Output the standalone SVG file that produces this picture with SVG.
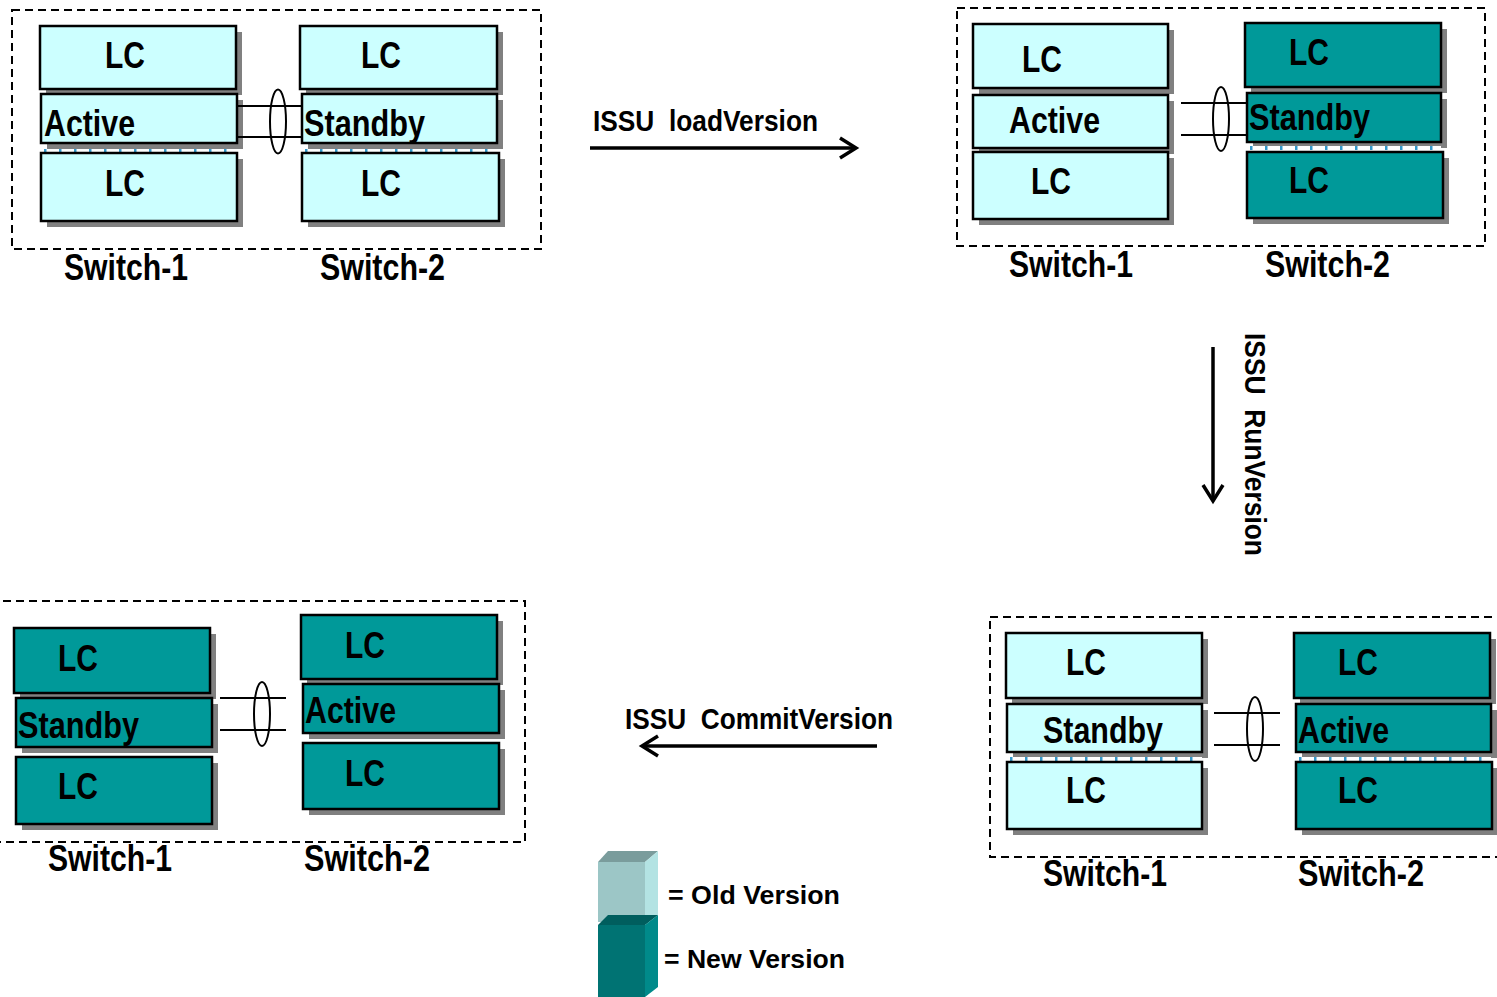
<svg xmlns="http://www.w3.org/2000/svg" width="1497" height="997" viewBox="0 0 1497 997">
  <style>
    .frame { fill: none; stroke: #000; stroke-width: 2; stroke-dasharray: 8 5; }
    .shadow { fill: #808080; }
    .old { fill: #CCFFFF; stroke: #000; stroke-width: 2.5; }
    .new { fill: #009999; stroke: #000; stroke-width: 2.5; }
    .sep { stroke: #fff; stroke-width: 4; }
    .sepdot { stroke: #3399CC; stroke-width: 4; stroke-dasharray: 2.5 12.5; }
    .lbl { font-family: "Liberation Sans Narrow", "Liberation Sans", Arial, sans-serif; font-weight: bold; font-size: 37px; fill: #000; }
    .sw { font-family: "Liberation Sans Narrow", "Liberation Sans", Arial, sans-serif; font-weight: bold; font-size: 36px; fill: #000; }
    .op { font-family: "Liberation Sans Narrow", "Liberation Sans", Arial, sans-serif; font-weight: bold; font-size: 30px; fill: #000; }
    .leg { font-family: "Liberation Sans", Arial, sans-serif; font-weight: bold; font-size: 26px; fill: #000; }
    .link { stroke: #000; stroke-width: 2; fill: none; }
    .ring { stroke: #000; stroke-width: 2; fill: none; }
    .flow { stroke: #000; stroke-width: 3.5; fill: none; }
  </style>

  <!-- Stage 1: both switches on the old image -->
  <g id="stage1">
    <rect class="frame" x="12" y="10" width="529" height="239"/>
    <g id="s1-sw1">
      <rect class="shadow" x="46" y="32" width="196" height="63"/>
      <rect class="old" x="40" y="26" width="196" height="63"/>
      <rect class="shadow" x="47" y="100" width="196" height="49"/>
      <rect class="old" x="41" y="94" width="196" height="49"/>
      <line class="sep" x1="44" y1="151" x2="237" y2="151"/>
      <line class="sepdot" x1="44" y1="151" x2="237" y2="151"/>
      <rect class="shadow" x="47" y="159" width="196" height="68"/>
      <rect class="old" x="41" y="153" width="196" height="68"/>
      <text class="lbl" x="105" y="68" textLength="40" lengthAdjust="spacingAndGlyphs">LC</text>
      <text class="lbl" x="44" y="136" textLength="91" lengthAdjust="spacingAndGlyphs">Active</text>
      <text class="lbl" x="105" y="196" textLength="40" lengthAdjust="spacingAndGlyphs">LC</text>
      <text class="sw" x="64" y="280" textLength="124" lengthAdjust="spacingAndGlyphs">Switch-1</text>
    </g>
    <g id="s1-sw2">
      <rect class="shadow" x="306" y="32" width="197" height="63"/>
      <rect class="old" x="300" y="26" width="197" height="63"/>
      <rect class="shadow" x="308" y="100" width="195" height="49"/>
      <rect class="old" x="302" y="94" width="195" height="49"/>
      <line class="sep" x1="305" y1="151" x2="497" y2="151"/>
      <line class="sepdot" x1="305" y1="151" x2="497" y2="151"/>
      <rect class="shadow" x="308" y="159" width="197" height="68"/>
      <rect class="old" x="302" y="153" width="197" height="68"/>
      <text class="lbl" x="361" y="68" textLength="40" lengthAdjust="spacingAndGlyphs">LC</text>
      <text class="lbl" x="304" y="136" textLength="121" lengthAdjust="spacingAndGlyphs">Standby</text>
      <text class="lbl" x="361" y="196" textLength="40" lengthAdjust="spacingAndGlyphs">LC</text>
      <text class="sw" x="320" y="280" textLength="125" lengthAdjust="spacingAndGlyphs">Switch-2</text>
    </g>
  </g>

  <!-- Stage 2: standby switch loaded with the new image -->
  <g id="stage2">
    <rect class="frame" x="957" y="8" width="528" height="238"/>
    <g id="s2-sw1">
      <rect class="shadow" x="979" y="30" width="195" height="64"/>
      <rect class="old" x="973" y="24" width="195" height="64"/>
      <rect class="shadow" x="979" y="101" width="195" height="53"/>
      <rect class="old" x="973" y="95" width="195" height="53"/>
      <rect class="shadow" x="979" y="158" width="195" height="67"/>
      <rect class="old" x="973" y="152" width="195" height="67"/>
      <text class="lbl" x="1022" y="72" textLength="40" lengthAdjust="spacingAndGlyphs">LC</text>
      <text class="lbl" x="1009" y="133" textLength="91" lengthAdjust="spacingAndGlyphs">Active</text>
      <text class="lbl" x="1031" y="194" textLength="40" lengthAdjust="spacingAndGlyphs">LC</text>
      <text class="sw" x="1009" y="277" textLength="124" lengthAdjust="spacingAndGlyphs">Switch-1</text>
    </g>
    <g id="s2-sw2">
      <rect class="shadow" x="1251" y="29" width="196" height="64"/>
      <rect class="new" x="1245" y="23" width="196" height="64"/>
      <rect class="shadow" x="1253" y="99" width="194" height="49"/>
      <rect class="new" x="1247" y="93" width="194" height="49"/>
      <line class="sep" x1="1250" y1="148" x2="1441" y2="148"/>
      <line class="sepdot" x1="1250" y1="148" x2="1441" y2="148"/>
      <rect class="shadow" x="1253" y="158" width="196" height="66"/>
      <rect class="new" x="1247" y="152" width="196" height="66"/>
      <text class="lbl" x="1289" y="65" textLength="40" lengthAdjust="spacingAndGlyphs">LC</text>
      <text class="lbl" x="1249" y="130" textLength="121" lengthAdjust="spacingAndGlyphs">Standby</text>
      <text class="lbl" x="1289" y="193" textLength="40" lengthAdjust="spacingAndGlyphs">LC</text>
      <text class="sw" x="1265" y="277" textLength="125" lengthAdjust="spacingAndGlyphs">Switch-2</text>
    </g>
  </g>

  <!-- Stage 3: switchover, new image now active -->
  <g id="stage3">
    <rect class="frame" x="990" y="617" width="520" height="240"/>
    <g id="s3-sw1">
      <rect class="shadow" x="1012" y="639" width="196" height="65"/>
      <rect class="old" x="1006" y="633" width="196" height="65"/>
      <rect class="shadow" x="1013" y="710" width="195" height="48"/>
      <rect class="old" x="1007" y="704" width="195" height="48"/>
      <line class="sep" x1="1010" y1="759" x2="1202" y2="759"/>
      <line class="sepdot" x1="1010" y1="759" x2="1202" y2="759"/>
      <rect class="shadow" x="1013" y="768" width="195" height="67"/>
      <rect class="old" x="1007" y="762" width="195" height="67"/>
      <text class="lbl" x="1066" y="675" textLength="40" lengthAdjust="spacingAndGlyphs">LC</text>
      <text class="lbl" x="1043" y="743" textLength="120" lengthAdjust="spacingAndGlyphs">Standby</text>
      <text class="lbl" x="1066" y="803" textLength="40" lengthAdjust="spacingAndGlyphs">LC</text>
      <text class="sw" x="1043" y="886" textLength="124" lengthAdjust="spacingAndGlyphs">Switch-1</text>
    </g>
    <g id="s3-sw2">
      <rect class="shadow" x="1300" y="639" width="196" height="65"/>
      <rect class="new" x="1294" y="633" width="196" height="65"/>
      <rect class="shadow" x="1302" y="710" width="195" height="48"/>
      <rect class="new" x="1296" y="704" width="195" height="48"/>
      <line class="sep" x1="1299" y1="759" x2="1491" y2="759"/>
      <line class="sepdot" x1="1299" y1="759" x2="1491" y2="759"/>
      <rect class="shadow" x="1302" y="768" width="196" height="67"/>
      <rect class="new" x="1296" y="762" width="196" height="67"/>
      <text class="lbl" x="1338" y="675" textLength="40" lengthAdjust="spacingAndGlyphs">LC</text>
      <text class="lbl" x="1298" y="743" textLength="91" lengthAdjust="spacingAndGlyphs">Active</text>
      <text class="lbl" x="1338" y="803" textLength="40" lengthAdjust="spacingAndGlyphs">LC</text>
      <text class="sw" x="1298" y="886" textLength="126" lengthAdjust="spacingAndGlyphs">Switch-2</text>
    </g>
  </g>

  <!-- Stage 4: both switches committed to the new image -->
  <g id="stage4">
    <rect class="frame" x="-10" y="601" width="535" height="241"/>
    <g id="s4-sw1">
      <rect class="shadow" x="20" y="634" width="196" height="65"/>
      <rect class="new" x="14" y="628" width="196" height="65"/>
      <rect class="shadow" x="22" y="704" width="196" height="49"/>
      <rect class="new" x="16" y="698" width="196" height="49"/>
      <rect class="shadow" x="22" y="763" width="196" height="67"/>
      <rect class="new" x="16" y="757" width="196" height="67"/>
      <text class="lbl" x="58" y="671" textLength="40" lengthAdjust="spacingAndGlyphs">LC</text>
      <text class="lbl" x="18" y="738" textLength="121" lengthAdjust="spacingAndGlyphs">Standby</text>
      <text class="lbl" x="58" y="799" textLength="40" lengthAdjust="spacingAndGlyphs">LC</text>
      <text class="sw" x="48" y="871" textLength="124" lengthAdjust="spacingAndGlyphs">Switch-1</text>
    </g>
    <g id="s4-sw2">
      <rect class="shadow" x="307" y="621" width="196" height="64"/>
      <rect class="new" x="301" y="615" width="196" height="64"/>
      <rect class="shadow" x="309" y="690" width="196" height="49"/>
      <rect class="new" x="303" y="684" width="196" height="49"/>
      <rect class="shadow" x="309" y="749" width="196" height="66"/>
      <rect class="new" x="303" y="743" width="196" height="66"/>
      <text class="lbl" x="345" y="658" textLength="40" lengthAdjust="spacingAndGlyphs">LC</text>
      <text class="lbl" x="305" y="723" textLength="91" lengthAdjust="spacingAndGlyphs">Active</text>
      <text class="lbl" x="345" y="786" textLength="40" lengthAdjust="spacingAndGlyphs">LC</text>
      <text class="sw" x="304" y="871" textLength="126" lengthAdjust="spacingAndGlyphs">Switch-2</text>
    </g>
  </g>

  <!-- Inter-switch links, step arrows and their labels -->
  <g id="connectors">
    <line class="link" x1="237" y1="106" x2="302" y2="106"/>
    <line class="link" x1="237" y1="137" x2="302" y2="137"/>
    <ellipse class="ring" cx="278" cy="121.5" rx="8" ry="32"/>

    <line class="link" x1="1181" y1="103" x2="1247" y2="103"/>
    <line class="link" x1="1181" y1="135" x2="1247" y2="135"/>
    <ellipse class="ring" cx="1221" cy="119" rx="8" ry="32"/>

    <line class="link" x1="1214" y1="713" x2="1280" y2="713"/>
    <line class="link" x1="1214" y1="745" x2="1280" y2="745"/>
    <ellipse class="ring" cx="1255" cy="729" rx="8" ry="32"/>

    <line class="link" x1="220" y1="698" x2="286" y2="698"/>
    <line class="link" x1="220" y1="730" x2="286" y2="730"/>
    <ellipse class="ring" cx="262" cy="714" rx="8" ry="32"/>

    <line class="flow" x1="590" y1="148" x2="856" y2="148"/>
    <polyline class="flow" points="840,138 856,148 840,158"/>
    <text class="op" x="593" y="131" xml:space="preserve" textLength="225" lengthAdjust="spacingAndGlyphs">ISSU  loadVersion</text>

    <line class="flow" x1="1213" y1="347" x2="1213" y2="501"/>
    <polyline class="flow" points="1203,485 1213,501 1223,485"/>
    <text class="op" transform="translate(1245,333) rotate(90)" xml:space="preserve" textLength="223" lengthAdjust="spacingAndGlyphs">ISSU  RunVersion</text>

    <line class="flow" x1="642" y1="746" x2="877" y2="746"/>
    <polyline class="flow" points="658,736 642,746 658,756"/>
    <text class="op" x="625" y="729" xml:space="preserve" textLength="268" lengthAdjust="spacingAndGlyphs">ISSU  CommitVersion</text>
  </g>

  <!-- Legend -->
  <g id="legend">
    <polygon points="598,862 608,851 658,851 645,862" fill="#7A9C9C"/>
    <rect x="598" y="862" width="47" height="60" fill="#9CC6C6"/>
    <polygon points="645,862 658,851 658,915 645,925" fill="#B3E3E3"/>
    <polygon points="598,925 608,915 658,915 645,925" fill="#005E5E"/>
    <rect x="598" y="925" width="47" height="72" fill="#007373"/>
    <polygon points="645,925 658,915 658,987 645,997" fill="#008A8A"/>
    <text class="leg" x="668" y="904" textLength="172" lengthAdjust="spacingAndGlyphs">= Old Version</text>
    <text class="leg" x="664" y="968" textLength="181" lengthAdjust="spacingAndGlyphs">= New Version</text>
  </g>
</svg>
